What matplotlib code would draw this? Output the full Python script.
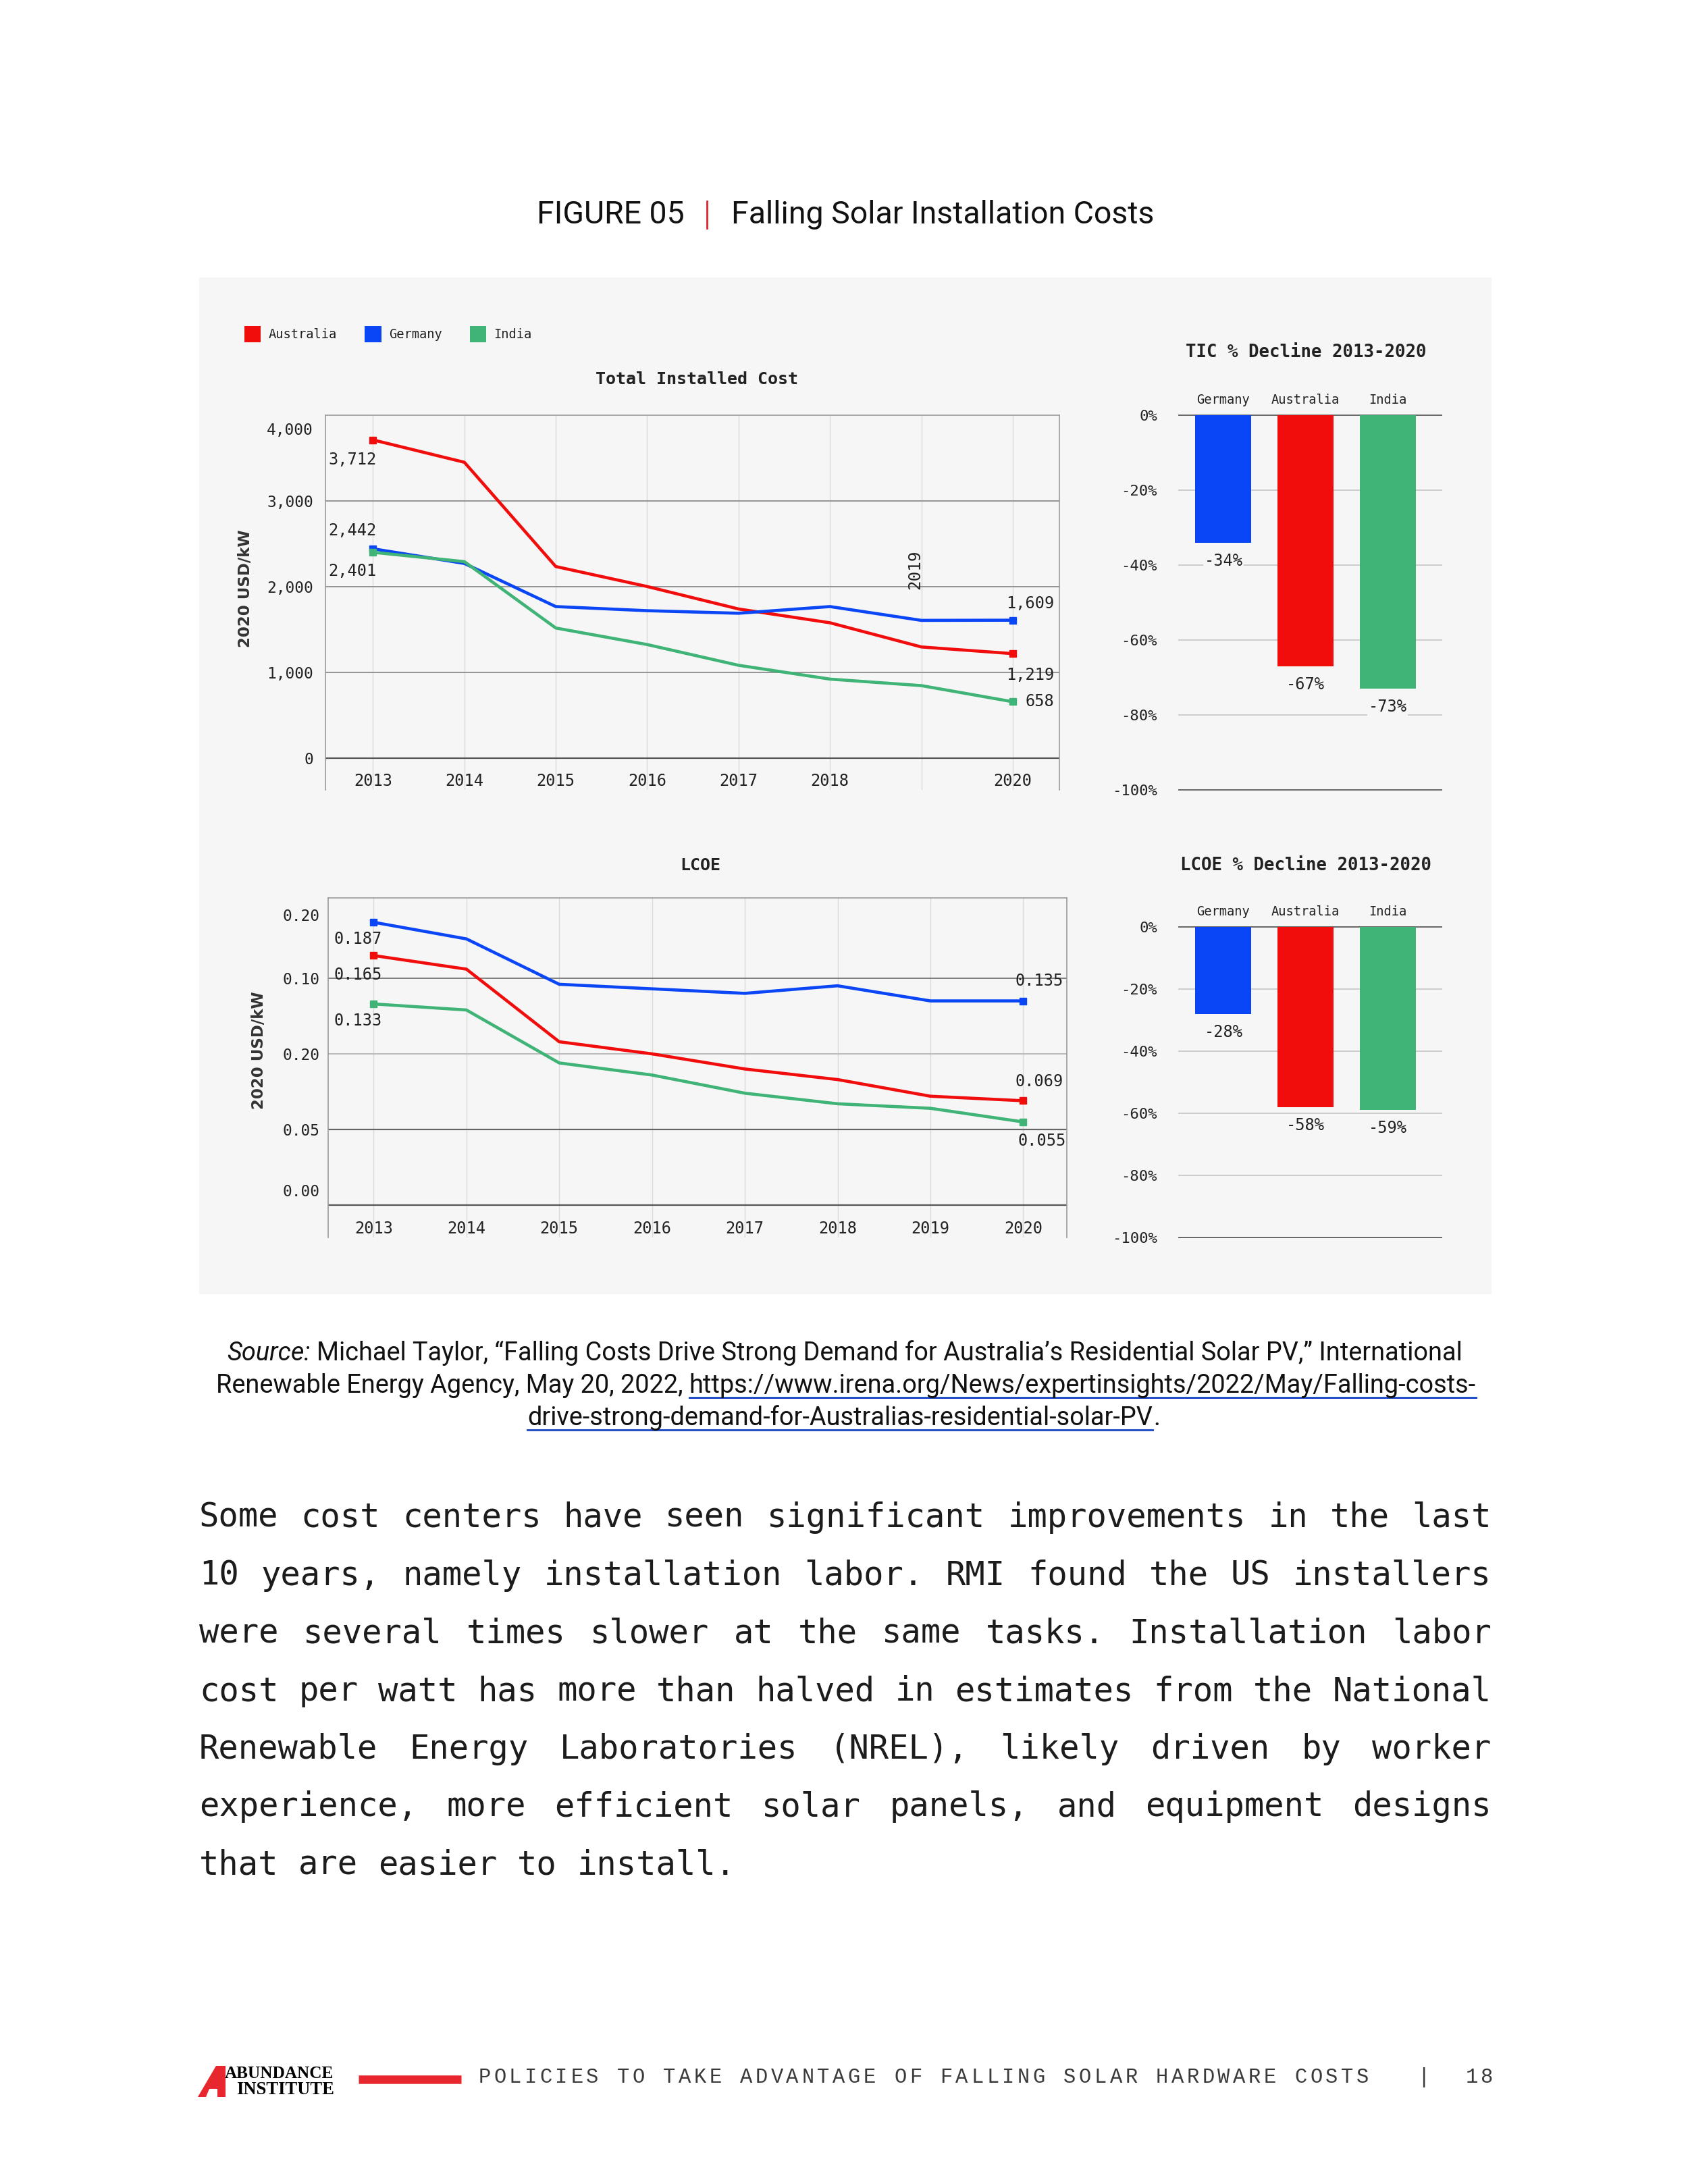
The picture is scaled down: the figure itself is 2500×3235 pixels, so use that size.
import matplotlib
matplotlib.use("Agg")
import matplotlib.pyplot as plt
from matplotlib.patches import Patch, Rectangle, Polygon
from matplotlib.lines import Line2D

# ---- data ----
years = [2013, 2014, 2015, 2016, 2017, 2018, 2019, 2020]

tic_australia = [3712, 3451, 2235, 2002, 1740, 1579, 1297, 1219]
tic_germany = [2442, 2271, 1768, 1720, 1690, 1768, 1607, 1609]
tic_india = [2401, 2292, 1518, 1325, 1083, 922, 846, 658]

lcoe_australia = [0.165, 0.156, 0.108, 0.100, 0.090, 0.083, 0.072, 0.069]
lcoe_germany = [0.187, 0.176, 0.146, 0.143, 0.140, 0.145, 0.135, 0.135]
lcoe_india = [0.133, 0.129, 0.094, 0.086, 0.074, 0.067, 0.064, 0.055]

bar_countries = ["Germany", "Australia", "India"]
tic_decline = [-34, -67, -73]
lcoe_decline = [-28, -58, -59]

legend_names = ["Australia", "Germany", "India"]

tic_ytick_pos = [0, 1000, 2000, 3000, 3840]
tic_ytick_labels = ["0", "1,000", "2,000", "3,000", "4,000"]
tic_xtick_years = [2013, 2014, 2015, 2016, 2017, 2018, 2020]

# the original chart carries these (odd) tick labels
lcoe_ytick_pos = [0.01, 0.05, 0.10, 0.15, 0.192]
lcoe_ytick_labels = ["0.00", "0.05", "0.20", "0.10", "0.20"]

bar_ticks = [0, -20, -40, -60, -80, -100]

body_lines = [
    "Some cost centers have seen significant improvements in the last",
    "10 years, namely installation labor. RMI found the US installers",
    "were several times slower at the same tasks. Installation labor",
    "cost per watt has more than halved in estimates from the National",
    "Renewable Energy Laboratories (NREL), likely driven by worker",
    "experience, more efficient solar panels, and equipment designs",
    "that are easier to install.",
]

footer_text = "POLICIES TO TAKE ADVANTAGE OF FALLING SOLAR HARDWARE COSTS"
page_number = "18"

# ---- style ----
W, H = 2500, 3235
BG = "#f6f6f6"
RED = "#f20d0d"
BLUE = "#0a46f5"
GREEN = "#3fb476"
MONO = "DejaVu Sans Mono"

fig = plt.figure(figsize=(W / 100, H / 100), dpi=100)
fig.patch.set_facecolor("white")
R = fig.canvas.get_renderer()


def ax_px(x0, y0, x1, y1):
    return fig.add_axes([x0 / W, 1 - y1 / H, (x1 - x0) / W, (y1 - y0) / H])


def px_text(x, y, s, **kw):
    return fig.text(x / W, 1 - y / H, s, **kw)


def wpx(t):
    return t.get_window_extent(renderer=R).width


def px_line(x0, y0, x1, y1, **kw):
    fig.add_artist(Line2D([x0 / W, x1 / W], [1 - y0 / H, 1 - y1 / H],
                          transform=fig.transFigure, **kw))


# panel background
fig.add_artist(Rectangle((295 / W, 1 - 1917 / H), (2209 - 295) / W, (1917 - 411) / H,
                         transform=fig.transFigure, facecolor=BG, edgecolor="none", zorder=0))


def style_line_axes(ax):
    ax.set_facecolor(BG)
    for s in ["top", "left", "right"]:
        ax.spines[s].set_color("#9a9a9a")
        ax.spines[s].set_linewidth(1.2)
    ax.spines["bottom"].set_visible(False)
    for y in years:
        ax.axvline(y, color="#dadada", lw=1, zorder=1)


def plot_series(ax, series, colors):
    for vals, c in zip(series, colors):
        ax.plot(years, vals, color=c, lw=3.3, marker="s", markevery=[0, -1], ms=7,
                solid_joinstyle="round", zorder=3)


# ---- Total Installed Cost ----
ax1 = ax_px(482, 615, 1569, 1170)
style_line_axes(ax1)
for v in [1000, 2000, 3000]:
    ax1.axhline(v, color="#8c8c8c", lw=1.3, zorder=1)
ax1.axhline(0, color="#555555", lw=1.6, zorder=1)
plot_series(ax1, [tic_australia, tic_germany, tic_india], [RED, BLUE, GREEN])
ax1.set_xlim(2012.48, 2020.51)
ax1.set_ylim(-370, 4000)
ax1.set_yticks(tic_ytick_pos, tic_ytick_labels)
ax1.set_xticks(tic_xtick_years, [str(y) for y in tic_xtick_years])
ax1.tick_params(axis="y", length=0, pad=13, labelsize=16.5, labelfontfamily=MONO, labelcolor="#222")
ax1.tick_params(axis="x", length=0, pad=-18, labelsize=17, labelfontfamily=MONO, labelcolor="#222")
ax1.text(2018.93, 2197, "2019", rotation=90, ha="center", va="center",
         fontsize=17.5, family=MONO, color="#222")

lab_kw = dict(textcoords="offset pixels", va="center", fontsize=17, family=MONO, color="#222")
for vals, off in zip([tic_australia, tic_germany, tic_india], [(-66, -29), (-66, 27), (-66, -28)]):
    ax1.annotate(f"{vals[0]:,}", xy=(years[0], vals[0]), xytext=off, ha="left", **lab_kw)
for vals, off in zip([tic_australia, tic_germany, tic_india], [(61, -32), (61, 25), (61, 0)]):
    ax1.annotate(f"{vals[-1]:,}", xy=(years[-1], vals[-1]), xytext=off, ha="right", **lab_kw)

ax1.annotate("Total Installed Cost", xy=(0.5, 1), xycoords="axes fraction", xytext=(6, 53),
             textcoords="offset pixels", ha="center", va="center", fontsize=18,
             family=MONO, weight="bold", color="#222")

# ---- LCOE ----
ax2 = ax_px(486, 1330, 1580, 1833)
style_line_axes(ax2)
ax2.axhline(0.15, color="#777777", lw=1.3, zorder=1)
ax2.axhline(0.10, color="#b5b5b5", lw=1.3, zorder=1)
ax2.axhline(0.05, color="#666666", lw=1.6, zorder=1)
ax2.axhline(0.0, color="#555555", lw=1.6, zorder=1)
plot_series(ax2, [lcoe_australia, lcoe_germany, lcoe_india], [RED, BLUE, GREEN])
ax2.set_xlim(2012.51, 2020.47)
ax2.set_ylim(-0.0214, 0.2031)
ax2.set_yticks(lcoe_ytick_pos, lcoe_ytick_labels)
ax2.set_xticks(years, [str(y) for y in years])
ax2.tick_params(axis="y", length=0, pad=9, labelsize=16.5, labelfontfamily=MONO, labelcolor="#222")
ax2.tick_params(axis="x", length=0, pad=-18, labelsize=17, labelfontfamily=MONO, labelcolor="#222")

for vals, off in zip([lcoe_australia, lcoe_germany, lcoe_india], [(-59, -29), (-59, -25), (-59, -25)]):
    ax2.annotate(f"{vals[0]:.3f}", xy=(years[0], vals[0]), xytext=off, ha="left", **lab_kw)
for vals, off in zip([lcoe_australia, lcoe_germany, lcoe_india], [(59, 28), (59, 30), (63, -28)]):
    ax2.annotate(f"{vals[-1]:.3f}", xy=(years[-1], vals[-1]), xytext=off, ha="right", **lab_kw)

ax2.annotate("LCOE", xy=(0.5, 1), xycoords="axes fraction", xytext=(4, 48),
             textcoords="offset pixels", ha="center", va="center", fontsize=18,
             family=MONO, weight="bold", color="#222")

# y labels
px_text(364, 872, "2020 USD/kW", rotation=90, ha="center", va="center",
        fontsize=16.5, weight="bold", family="DejaVu Sans", color="#333")
px_text(384, 1556, "2020 USD/kW", rotation=90, ha="center", va="center",
        fontsize=16.5, weight="bold", family="DejaVu Sans", color="#333")

# legend
fig.legend(handles=[Patch(facecolor=c, edgecolor="none", label=n)
                    for c, n in zip([RED, BLUE, GREEN], legend_names)],
           loc="center left", bbox_to_anchor=(362 / W, 1 - 495 / H), ncol=3, frameon=False,
           prop={"family": MONO, "size": 13.5}, handlelength=1.3, handleheight=1.6,
           handletextpad=0.6, columnspacing=2.2, borderpad=0, borderaxespad=0,
           labelcolor="#222")


# ---- decline bar charts ----
def decline_bars(box, vals, title, title_off, cat_off):
    ax = ax_px(*box)
    ax.set_facecolor(BG)
    ax.patch.set_alpha(0)
    for s in ax.spines.values():
        s.set_visible(False)
    for t in bar_ticks:
        c = "#666666" if t in (0, -100) else "#cccccc"
        ax.axhline(t, color=c, lw=1.4, zorder=1, clip_on=False)
    xs = list(range(len(vals)))
    ax.bar(xs, vals, width=0.683, color=[BLUE, RED, GREEN], zorder=2)
    ax.set_xlim(-0.543, 2.658)
    ax.set_ylim(-100, 0)
    ax.set_xticks([])
    ax.set_yticks(bar_ticks, [f"{t}%" for t in bar_ticks])
    ax.tick_params(axis="y", length=0, pad=23, labelsize=16, labelfontfamily=MONO, labelcolor="#222")
    for x, v, name in zip(xs, vals, bar_countries):
        ax.annotate(f"{v}%", xy=(x, v), xytext=(0, -27), textcoords="offset pixels",
                    ha="center", va="center", fontsize=17, family=MONO, color="#222",
                    bbox=dict(facecolor=BG, edgecolor="none", pad=1), zorder=3)
        ax.annotate(name, xy=(x, 0), xytext=(0, cat_off), textcoords="offset pixels",
                    ha="center", va="center", fontsize=13.5, family=MONO, color="#222")
    ax.annotate(title, xy=(0.5, 1), xycoords="axes fraction", xytext=(-6, title_off),
                textcoords="offset pixels", ha="center", va="center", fontsize=18.5,
                family=MONO, weight="bold", color="#222")


decline_bars((1746, 615, 2135, 1170), tic_decline, "TIC % Decline 2013-2020", 93, 22)
decline_bars((1746, 1373, 2135, 1833), lcoe_decline, "LCOE % Decline 2013-2020", 91, 23)

# ---- figure header ----
h1 = px_text(795, 318, "FIGURE 05", ha="left", va="center", family="Roboto", fontsize=30, color="#111")
h2 = px_text(1083, 318, "Falling Solar Installation Costs", ha="left", va="center",
             family="Roboto", fontsize=30, color="#111")
fs = 30 * 624 / wpx(h2)
h1.set_fontsize(fs)
h2.set_fontsize(fs)
px_line(1047, 298, 1047, 338, color="#d9262c", lw=2)

# ---- source note ----
SRC_FONT = "Roboto"
src_base = 24
probe = px_text(0, 0, "a a", family=SRC_FONT, fontsize=src_base)
probe2 = px_text(0, 0, "aa", family=SRC_FONT, fontsize=src_base)
space_ratio = (wpx(probe) - wpx(probe2)) / src_base
probe.remove()
probe2.remove()

src_lines = [
    (2015, 1251, [("Source:", "italic", False),
                  ("Michael Taylor, \u201cFalling Costs Drive Strong Demand for Australia\u2019s "
                   "Residential Solar PV,\u201d International", "normal", False)], [True]),
    (2063, 1253, [("Renewable Energy Agency, May 20, 2022,", "normal", False),
                  ("https://www.irena.org/News/expertinsights/2022/May/Falling-costs-", "normal", True)],
     [True]),
    (2111, 1250, [("drive-strong-demand-for-Australias-residential-solar-PV", "normal", True),
                  (".", "normal", False)], [False]),
]

# find the font size from the first line width
tmp = [px_text(0, 0, s, family=SRC_FONT, style=st, fontsize=src_base) for s, st, _ in src_lines[0][2]]
w0 = sum(wpx(t) for t in tmp) + space_ratio * src_base
for t in tmp:
    t.remove()
src_fs = src_base * 1828 / w0
space_w = space_ratio * src_fs

for y, cx, pieces, spaces in src_lines:
    arts = [px_text(0, y, s, family=SRC_FONT, style=st, fontsize=src_fs, ha="left",
                    va="baseline", color="#111") for s, st, _ in pieces]
    widths = [wpx(a) for a in arts]
    gaps = [space_w if sp else 1.5 for sp in spaces]
    total = sum(widths) + sum(gaps)
    x = cx - total / 2
    for i, (a, w, (s, st, ul)) in enumerate(zip(arts, widths, pieces)):
        a.set_x(x / W)
        if ul:
            px_line(x, y + 7, x + w, y + 7, color="#2550c8", lw=2.2)
        x += w + (gaps[i] if i < len(gaps) else 0)

# ---- body paragraph (justified monospace) ----
cw = 1914 / 65
body_fs = cw / (0.6021 * 100 / 72)
for i, line in enumerate(body_lines):
    y = 2248 + i * 85.7
    words = line.split(" ")
    last = i == len(body_lines) - 1
    nchar = sum(len(w) for w in words)
    gap = cw if last else (1914 - nchar * cw) / (len(words) - 1)
    x = 295
    for w in words:
        px_text(x, y, w, ha="left", va="center", family=MONO, fontsize=body_fs, color="#1c1c1c")
        x += len(w) * cw + gap

# ---- footer ----
fig.add_artist(Polygon([(293 / W, 1 - 3106 / H), (320 / W, 1 - 3060 / H), (334 / W, 1 - 3060 / H),
                        (334 / W, 1 - 3106 / H), (322 / W, 1 - 3106 / H), (322 / W, 1 - 3094 / H),
                        (310 / W, 1 - 3094 / H), (305 / W, 1 - 3106 / H)],
                       closed=True, transform=fig.transFigure, facecolor="#e8262d", edgecolor="none"))
l1 = px_text(333, 3071, "ABUNDANCE", ha="left", va="center", family="Liberation Serif",
             weight="bold", fontsize=14, color="black")
l1.set_fontsize(14 * 162 / wpx(l1))
l2 = px_text(350, 3096, "INSTITUTE", ha="left", va="center", family="Liberation Serif",
             weight="bold", fontsize=14, color="black")
l2.set_fontsize(14 * 145 / wpx(l2))

px_line(531, 3080, 683, 3080, color="#e8262d", lw=9, solid_capstyle="butt")
pitch = (2029 - 706) / len(footer_text)
for i, ch in enumerate(footer_text):
    px_text(706 + (i + 0.5) * pitch, 3077, ch, ha="center", va="center",
            family="Liberation Mono", fontsize=22, color="#3a3a3a")
px_text(2108, 3077, "|", ha="center", va="center", family="Liberation Mono", fontsize=22, color="#3a3a3a")
for i, ch in enumerate(page_number):
    px_text(2168 + (i + 0.5) * pitch, 3077, ch, ha="center", va="center",
            family="Liberation Mono", fontsize=22, color="#3a3a3a")

fig.savefig("out.png", dpi=100, facecolor="white")
